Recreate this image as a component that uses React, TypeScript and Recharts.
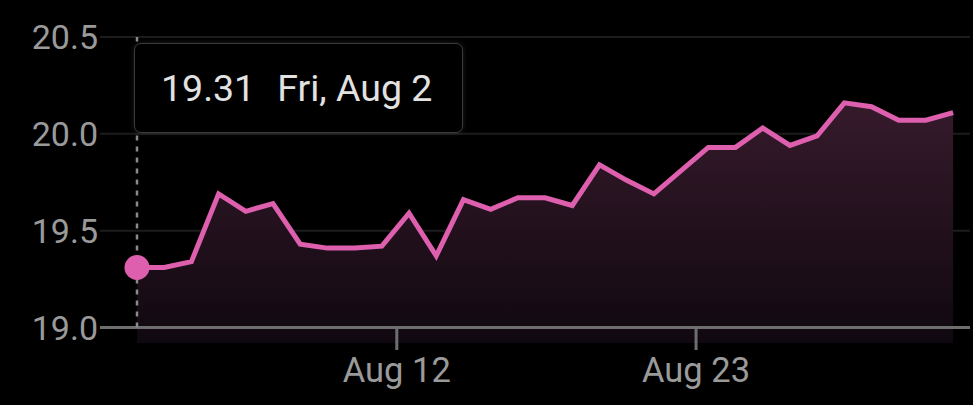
import { Area, AreaChart, CartesianGrid, ReferenceLine, Tooltip, XAxis, YAxis } from "recharts";

const dates = [
  "Fri, Aug 2", "Sat, Aug 3", "Sun, Aug 4", "Mon, Aug 5", "Tue, Aug 6", "Wed, Aug 7", "Thu, Aug 8",
  "Fri, Aug 9", "Sat, Aug 10", "Sun, Aug 11", "Mon, Aug 12", "Tue, Aug 13", "Wed, Aug 14", "Thu, Aug 15",
  "Fri, Aug 16", "Sat, Aug 17", "Sun, Aug 18", "Mon, Aug 19", "Tue, Aug 20", "Wed, Aug 21", "Thu, Aug 22",
  "Fri, Aug 23", "Sat, Aug 24", "Sun, Aug 25", "Mon, Aug 26", "Tue, Aug 27", "Wed, Aug 28", "Thu, Aug 29",
  "Fri, Aug 30", "Sat, Aug 31", "Sun, Sep 1",
];
const values = [
  19.31, 19.31, 19.34, 19.69, 19.6, 19.64, 19.43, 19.41, 19.41, 19.42, 19.59,
  19.37, 19.66, 19.61, 19.67, 19.67, 19.63, 19.84, 19.76, 19.69, 19.81, 19.93,
  19.93, 20.03, 19.94, 19.99, 20.16, 20.14, 20.07, 20.07, 20.11,
];
const yTicks = [19, 19.5, 20, 20.5];
const gridValues = [19.5, 20, 20.5];
// ticks sit at midnight, samples land a little later in the day
const xTicks = [9.55, 20.55];
const xTickLabels = ["Aug 12", "Aug 23"];

const data = values.map((v, i) => ({ i, v, date: dates[i] }));

const PINK = "#dd5fae";
const FONT = "Roboto, sans-serif";

function XTick({ x, y, payload }: any) {
  const idx = xTicks.indexOf(payload.value);
  return (
    <g>
      <line x1={x} x2={x} y1={y - 15} y2={y + 7} stroke="#6e6e6e" strokeWidth={3} />
      <text x={x} y={y + 39} textAnchor="middle" fill="#9a9a9a" fontSize={34.5} fontFamily={FONT}>
        {xTickLabels[idx]}
      </text>
    </g>
  );
}

function TipBox({ payload }: any) {
  if (!payload || !payload.length) return null;
  const p = payload[0];
  return (
    <div
      style={{
        width: 329,
        height: 90,
        boxSizing: "border-box",
        background: "#000",
        border: "1.5px solid #3a3a3a",
        borderRadius: 7,
        boxShadow: "0 0 5px rgba(255,255,255,0.12)",
        display: "flex",
        alignItems: "center",
        paddingLeft: 26,
        fontFamily: FONT,
        fontSize: 37.5,
        color: "#e2e2e2",
      }}
    >
      <span>{Number(p.value).toFixed(2)}</span>
      <span style={{ marginLeft: 22 }}>{p.payload.date}</span>
    </div>
  );
}

export default function App() {
  return (
    <div style={{ position: "fixed", left: 0, top: 0, width: 973, height: 405, background: "#000" }}>
      <AreaChart width={973} height={405} data={data} margin={{ top: 37, right: 3, bottom: 0, left: 0 }}>
        <defs>
          <linearGradient id="fillGrad" x1="0" y1="0" x2="0" y2="1">
            <stop offset="0%" stopColor="#361a2b" />
            <stop offset="100%" stopColor="#100810" />
          </linearGradient>
        </defs>
        <CartesianGrid
          vertical={false}
          horizontalValues={gridValues}
          stroke="#1c1c1c"
          strokeWidth={2}
        />
        <XAxis
          dataKey="i"
          type="number"
          domain={[-1.36, 30.62]}
          ticks={xTicks}
          height={62}
          axisLine={false}
          tickLine={false}
          tickSize={0}
          tickMargin={0}
          tick={<XTick />}
          interval={0}
        />
        <YAxis
          domain={[18.92, 20.5]}
          ticks={yTicks}
          width={100}
          axisLine={false}
          tickLine={false}
          tickSize={0}
          tickMargin={2}
          tickFormatter={(v: number) => v.toFixed(1)}
          tick={{ fill: "#9a9a9a", fontSize: 34, fontFamily: FONT }}
          allowDataOverflow
        />
        <Area
          type="linear"
          dataKey="v"
          stroke={PINK}
          strokeWidth={5}
          fill="url(#fillGrad)"
          fillOpacity={1}
          dot={false}
          activeDot={{ r: 12.5, fill: PINK, stroke: "none" }}
          isAnimationActive={false}
        />
        <ReferenceLine y={19} stroke="#6e6e6e" strokeWidth={3} />
        <ReferenceLine
          segment={[{ x: 0, y: 19 }, { x: 0, y: 20.5 }]}
          stroke="#8a8a8a"
          strokeWidth={2.5}
          strokeDasharray="5 6"
        />
        <Tooltip
          active
          defaultIndex={0}
          cursor={false}
          position={{ x: 134, y: 43 }}
          content={<TipBox />}
          wrapperStyle={{ outline: "none" }}
          isAnimationActive={false}
        />
      </AreaChart>
    </div>
  );
}
